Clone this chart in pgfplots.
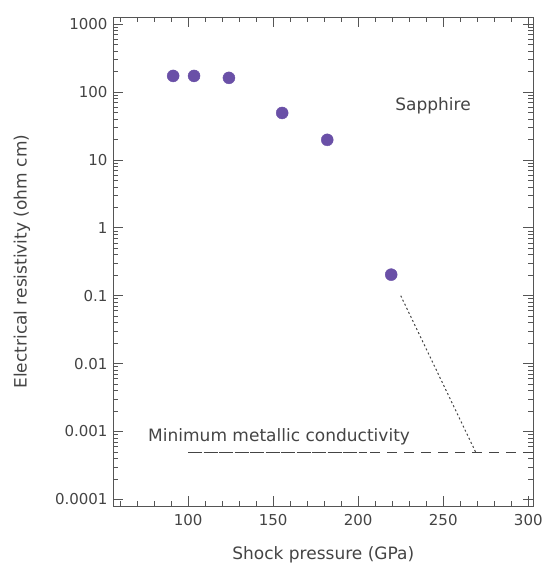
\documentclass[border=0pt]{standalone}
\usepackage{pgfplots}
\pgfplotsset{compat=1.18}
\usepackage{fontspec}
\setmainfont{DejaVu Sans}
\usetikzlibrary{calc}
\definecolor{dots}{HTML}{6A50A7}
\definecolor{txt}{HTML}{444444}
\definecolor{frame}{HTML}{555555}

\begin{document}
\begin{tikzpicture}
\begin{axis}[
  scale only axis,
  width=420pt,height=489pt,
  ymode=log,
  xmin=55.9,xmax=303,
  ymin=7.9e-5,ymax=1267,
  xtick={100,150,...,300},
  minor xtick={60,70,...,300},
  ytick={1e-4,1e-3,1e-2,1e-1,1,10,100,1000},
  yticklabels={0.0001,0.001,0.01,0.1,1,10,100,1000},
  /pgf/number format/assume math mode=true,
  tick align=inside,
  major tick length=10pt,
  minor tick length=5pt,
  every tick/.style={frame,line width=0.6pt},
  axis line style={frame,line width=0.8pt},
  ticklabel style={font=\fontsize{15}{18}\selectfont,text=txt},
  xticklabel style={yshift=-4pt},
  yticklabel style={xshift=-2pt},
  xlabel={Shock pressure (GPa)},
  ylabel={Electrical resistivity (ohm cm)},
  every axis x label/.style={at={(axis description cs:0.5,0)},yshift=-48pt,anchor=center,
    font=\fontsize{17}{20}\selectfont,text=txt},
  every axis y label/.style={at={(axis description cs:0,0.5)},xshift=-91pt,rotate=90,anchor=center,
    font=\fontsize{17}{20}\selectfont,text=txt},
  clip=false,
]
\addplot[only marks,mark=*,mark size=6pt,color=dots,mark options={draw=none,fill=dots}]
  coordinates {(91.2,172) (103.5,172) (124,161) (155.3,49) (181.8,19.7) (219.4,0.204)};
\addplot[txt,line width=0.7pt,dash pattern=on 14pt off 1.5pt] coordinates {(100,5e-4) (205,5e-4)};
\addplot[txt,line width=0.7pt,dash pattern=on 10pt off 7pt] coordinates {(207,5e-4) (303,5e-4)};
\addplot[txt,line width=1pt,dash pattern=on 2pt off 2.5pt] coordinates {(225,0.1) (269,5e-4)};
\node[text=txt,font=\fontsize{17}{20}\selectfont] at (axis cs:244,63) {Sapphire};
\node[text=txt,font=\fontsize{17}{20}\selectfont] at (axis cs:153.5,8.5e-4) {Minimum metallic conductivity};
\end{axis}
\path[use as bounding box] ($(current axis.south west)+(-113pt,-59pt)$) rectangle ($(current axis.north east)+(10pt,17pt)$);
\end{tikzpicture}
\end{document}
